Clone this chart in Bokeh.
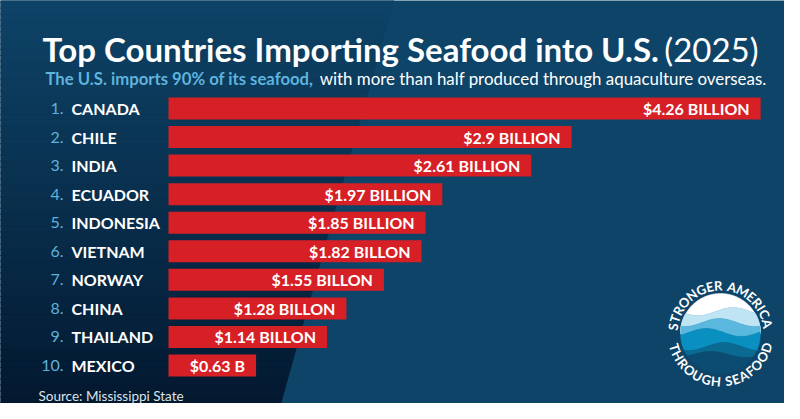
import numpy as np
from bokeh.plotting import figure
from bokeh.models import Range1d, Label
from bokeh.core.properties import value
from bokeh.embed import file_html
from bokeh.resources import INLINE

# ---------------- data ----------------
ranks = ["1.", "2.", "3.", "4.", "5.", "6.", "7.", "8.", "9.", "10."]
countries = ["CANADA", "CHILE", "INDIA", "ECUADOR", "INDONESIA",
             "VIETNAM", "NORWAY", "CHINA", "THAILAND", "MEXICO"]
imports_billion = [4.26, 2.9, 2.61, 1.97, 1.85, 1.82, 1.55, 1.28, 1.14, 0.63]
value_labels = ["$4.26 BILLION", "$2.9 BILLION", "$2.61 BILLION", "$1.97 BILLION",
                "$1.85 BILLION", "$1.82 BILLON", "$1.55 BILLON", "$1.28 BILLON",
                "$1.14 BILLON", "$0.63 B"]

title_main = "Top Countries Importing Seafood into U.S."
title_year = "(2025)"
subtitle_bold = "The U.S. imports 90% of its seafood,"
subtitle_rest = "with more than half produced through aquaculture overseas."
source_text = "Source: Mississippi State"
logo_top = "STRONGER AMERICA"
logo_bottom = "THROUGH SEAFOOD"

# ---------------- layout ----------------
W, H = 784, 403
X0 = 168.0              # canvas px of value 0
PXB = 139.0             # px per billion
ROW0 = 108.0            # canvas px of first row center
PITCH = 28.56

def cx(px):
    return (px - X0) / PXB

def cy(py):
    return (py - ROW0) / PITCH

FONT = value("Lato")

p = figure(width=W, height=H, output_backend="svg", toolbar_location=None,
           x_range=Range1d(-X0 / PXB, (W - X0) / PXB),
           y_range=Range1d((H - ROW0) / PITCH, -ROW0 / PITCH),
           x_axis_type=None, y_axis_type=None, min_border=0)
p.grid.visible = False
p.outline_line_color = None
p.background_fill_color = "#0e4468"
p.border_fill_color = "#0e4468"

# ---------------- background gradient (left diagonal panel) ----------------
def edge(y):
    return 393 - 0.28 * y

def hex2rgb(h):
    h = h.lstrip("#")
    return np.array([int(h[i:i + 2], 16) for i in (0, 2, 4)], dtype=float)

c_top = hex2rgb("#0e4367")
c_bot = hex2rgb("#03182f")
N = 70
xs, ys, cols = [], [], []
for k in range(N):
    y0 = 412 * k / N - 4
    y1 = 412 * (k + 1) / N - 4
    t = (k + 0.5) / N
    s = t ** 1.1
    c = c_top * (1 - s) + c_bot * s
    cols.append("#%02x%02x%02x" % tuple(int(round(v)) for v in c))
    xs.append([cx(-10), cx(edge(y0)), cx(edge(y1)), cx(-10)])
    ys.append([cy(y0), cy(y0), cy(y1), cy(y1)])
p.patches(xs, ys, fill_color=cols, line_color=cols, line_width=1)

# ---------------- bars ----------------
idx = list(range(len(countries)))
p.hbar(y=idx, left=0, right=imports_billion, height=22 / PITCH,
       fill_color="#d71f26", line_color=None)

p.text(x=cx(63), y=idx, text=ranks, text_align="right", text_baseline="middle",
       text_font=FONT, text_font_size="16px", text_color="#5fb2da")
p.text(x=cx(71), y=idx, text=countries, text_align="left", text_baseline="middle",
       text_font=FONT, text_font_size="16px", text_font_style="bold", text_color="#ffffff")
p.text(x=imports_billion, y=idx, text=value_labels, x_offset=-11,
       text_align="right", text_baseline="middle",
       text_font=FONT, text_font_size="16px", text_font_style="bold", text_color="#ffffff")

# ---------------- titles ----------------
def lab(text, x, y_base, size, color, style="normal", align="left"):
    p.add_layout(Label(x=x, y=H - y_base, x_units="screen", y_units="screen",
                       text=text, text_font="Lato", text_font_size=size,
                       text_font_style=style, text_color=color,
                       text_align=align, text_baseline="alphabetic"))

lab(title_main, 42, 48, "33px", "#ffffff", "bold")
lab(title_year, 758, 48, "33px", "#ffffff", "normal", "right")
lab(subtitle_bold, 45, 78, "16.7px", "#5fb3dc", "bold")
lab(subtitle_rest, 766, 78, "16.9px", "#ffffff", "normal", "right")
lab(source_text, 38, 395, "13.5px", "#dde4ec")

# ---------------- logo ----------------
LCX, LCY, R = 720.0, 333.0, 40.0
band_cols = ["#ffffff", "#bfe5f5", "#5ab7dd", "#0a8fc1", "#0b6a91", "#0c4c72"]
def wave(k, x):
    params = [(-22, 4, 0.0), (-11, 4, 1.2), (-1, 4, 2.4), (13, 4, 0.8), (21, 3, 2.0)]
    b, a, ph = params[k]
    return b + a * np.sin(2 * np.pi * (x + R) / 70.0 + ph)

xx = np.linspace(-R, R, 121)
circ = np.sqrt(np.maximum(R ** 2 - xx ** 2, 0))
bxs, bys = [], []
for k in range(6):
    top = -circ if k == 0 else np.maximum(-circ, wave(k - 1, xx))
    bot = circ if k == 5 else np.minimum(circ, wave(k, xx))
    bot = np.maximum(bot, top)
    px = np.concatenate([xx, xx[::-1]]) + LCX
    py = np.concatenate([top, bot[::-1]]) + LCY
    bxs.append([cx(v) for v in px])
    bys.append([cy(v) for v in py])
p.patches(bxs, bys, fill_color=band_cols, line_color=band_cols, line_width=0.5)

CHW = {"S": .55, "T": .58, "R": .62, "O": .75, "N": .72, "G": .72, "E": .55, " ": .3,
       "A": .68, "M": .87, "I": .28, "C": .66, "H": .72, "U": .70, "F": .52, "D": .74}
RT = 48.0
def ring(text, a0, a1, top):
    w = np.array([CHW[c] for c in text])
    centers = (np.cumsum(w) - w / 2 - w[0] / 2) / (w.sum() - w[0] / 2 - w[-1] / 2)
    for ch, f in zip(text, centers):
        if ch == " ":
            continue
        th = np.radians(a0 + (a1 - a0) * f)
        px = LCX + RT * np.cos(th)
        py = LCY - RT * np.sin(th)
        rot = th - np.pi / 2 if top else th + np.pi / 2
        p.add_layout(Label(x=px, y=H - py, x_units="screen", y_units="screen",
                           text=ch, text_font="Lato", text_font_size="13px",
                           text_font_style="bold", text_color="#ffffff",
                           text_align="center", text_baseline="middle", angle=rot))

ring(logo_top, 172, 12, True)
ring(logo_bottom, -163, -17, False)

open("out.html", "w").write(file_html(p, INLINE))
